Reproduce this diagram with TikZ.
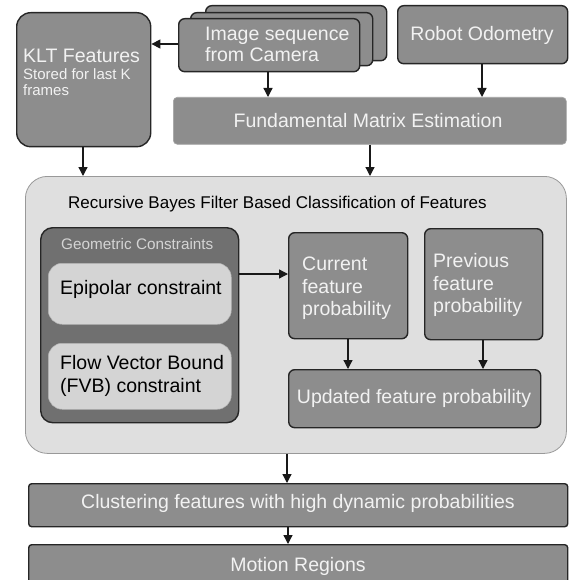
\documentclass[tikz,border=0pt]{standalone}
\usepackage{fontspec}
\setmainfont{Liberation Sans}
\usetikzlibrary{arrows.meta}
\definecolor{boxgray}{RGB}{141,141,141}
\definecolor{geogray}{RGB}{112,112,112}
\definecolor{contgray}{RGB}{223,223,223}
\definecolor{lightbox}{RGB}{212,212,212}
\definecolor{txtwhite}{RGB}{242,242,242}
\definecolor{geotxt}{RGB}{212,212,212}
\tikzset{
  darkbox/.style={draw=black!85, line width=1.4pt, fill=boxgray, rounded corners=6pt, anchor=north west, inner sep=0pt},
  flatbox/.style={draw=black!35, line width=0.6pt, fill=boxgray, rounded corners=4pt, anchor=north west, inner sep=0pt},
  contbox/.style={draw=black!40, line width=0.8pt, fill=contgray, rounded corners=22pt, anchor=north west, inner sep=0pt},
  geobox/.style={draw=black!85, line width=1.4pt, fill=geogray, rounded corners=12pt, anchor=north west, inner sep=0pt},
  innerbox/.style={draw=black!30, line width=0.5pt, fill=lightbox, rounded corners=14pt, anchor=north west, inner sep=0pt},
  bigtxt/.style={font=\fontsize{19.5}{22}\selectfont, text=txtwhite, inner sep=0pt, anchor=base west},
  bigblk/.style={font=\fontsize{19.5}{22}\selectfont, text=black, inner sep=0pt, anchor=base west},
  midtxt/.style={font=\fontsize{15}{17}\selectfont, text=txtwhite, inner sep=0pt, anchor=base west},
  arr/.style={-{Triangle[length=9pt,width=9pt]}, line width=1.3pt, black!90},
}
\begin{document}
\begin{tikzpicture}[x=1pt,y=-1pt]
\useasboundingbox (0,0) rectangle (569,580);
\clip (0,0) rectangle (569,580);
\fill[white] (0,0) rectangle (569,580);

% KLT
\node[darkbox, rounded corners=14pt, minimum width=134pt, minimum height=134pt] (klt) at (16,12) {};
\node[bigtxt] (kltt) at (23,63) {KLT Features};
\node[midtxt] (klts1) at (23,80) {Stored for last K};
\node[midtxt] (klts2) at (23,96) {frames};

% Image sequence stack
\node[darkbox, minimum width=181pt, minimum height=55pt] (img3) at (205,5) {};
\node[darkbox, minimum width=182pt, minimum height=53pt] (img2) at (190,12) {};
\node[darkbox, minimum width=181pt, minimum height=53pt] (img) at (178,18) {};
\node[bigtxt] (imgt1) at (205,41) {Image sequence};
\node[bigtxt] (imgt2) at (205,62) {from Camera};

% Robot odometry
\node[darkbox, minimum width=170pt, minimum height=58pt] (odo) at (397,5) {};
\node[bigtxt, anchor=base] (odot) at (482,41) {Robot Odometry};

% Fundamental matrix
\node[flatbox, minimum width=393pt, minimum height=47pt] (fme) at (173,97) {};
\node[bigtxt, anchor=base] (fmet) at (368,128) {Fundamental Matrix Estimation};

% Container
\node[contbox, minimum width=541pt, minimum height=277pt] (cont) at (25,176) {};
\node[font=\fontsize{17}{20}\selectfont, inner sep=0pt, anchor=base west] (contt) at (68,208) {Recursive Bayes Filter Based Classification of Features};

% Geometric constraints
\node[geobox, minimum width=198pt, minimum height=195pt] (geo) at (40,227) {};
\node[font=\fontsize{15.3}{17}\selectfont, text=geotxt, inner sep=0pt, anchor=base west] (geot) at (61,249) {Geometric Constraints};
\node[innerbox, minimum width=183pt, minimum height=61pt] (epi) at (48,263) {};
\node[bigblk] (epit) at (60,294) {Epipolar constraint};
\node[innerbox, minimum width=183pt, minimum height=66pt] (fvb) at (48,343) {};
\node[bigblk] (fvbt1) at (60,369) {Flow Vector Bound};
\node[bigblk] (fvbt2) at (60,392) {(FVB) constraint};

% Current
\node[darkbox, minimum width=119pt, minimum height=106pt] (cur) at (288,232) {};
\node[bigtxt] (curt1) at (302,270) {Current};
\node[bigtxt] (curt2) at (302,293) {feature};
\node[bigtxt] (curt3) at (302,315) {probability};

% Previous
\node[darkbox, minimum width=118pt, minimum height=111pt] (prev) at (424,228) {};
\node[bigtxt] (prevt1) at (433,267) {Previous};
\node[bigtxt] (prevt2) at (433,290) {feature};
\node[bigtxt] (prevt3) at (433,312) {probability};

% Updated
\node[darkbox, minimum width=252pt, minimum height=58pt] (upd) at (288,369) {};
\node[bigtxt, anchor=base] (updt) at (414,403) {Updated feature probability};

% Clustering
\node[darkbox, rounded corners=3pt, minimum width=539pt, minimum height=43pt] (clu) at (28,483) {};
\node[bigtxt, anchor=base] (clut) at (298,508) {Clustering features with high dynamic probabilities};

% Motion regions
\node[darkbox, rounded corners=3pt, minimum width=539pt, minimum height=50pt] (mot) at (28,544) {};
\node[bigtxt, anchor=base] (mott) at (298,571) {Motion Regions};

% Arrows
\draw[arr] (img.west |- 0,44) -- (klt.east |- 0,44);
\draw[arr] (img.south -| 268,0) -- (fme.north -| 268,0);
\draw[arr] (odo.south -| 482,0) -- (fme.north -| 482,0);
\draw[arr] (fme.south -| 370,0) -- (cont.north -| 370,0);
\draw[arr] (klt.south -| 83,0) -- (cont.north -| 83,0);
\draw[arr] (geo.east |- 0,274) -- (cur.west |- 0,274);
\draw[arr] (cur.south -| 348,0) -- (upd.north -| 348,0);
\draw[arr] (prev.south -| 483,0) -- (upd.north -| 483,0);
\draw[arr] (cont.south -| 287,0) -- (clu.north -| 287,0);
\draw[arr] (clu.south -| 288,0) -- (mot.north -| 288,0);
\end{tikzpicture}
\end{document}
